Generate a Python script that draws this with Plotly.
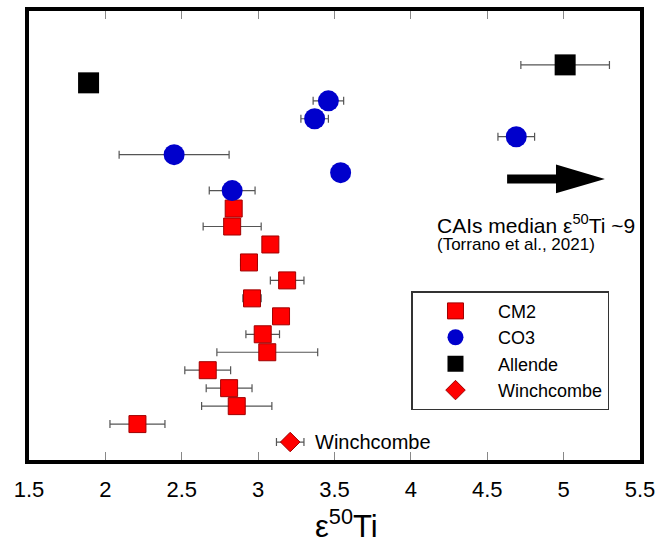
import plotly.graph_objects as go

# epsilon 50Ti values, one sample per row (row 1 at the bottom)
cm2_rows = [14, 13, 12, 11, 10, 9, 8, 7, 6, 5, 4, 3, 2]
cm2_ti = [2.84, 2.83, 3.08, 2.94, 3.19, 2.96, 3.15, 3.03, 3.06, 2.67, 2.81, 2.86, 2.21]
cm2_err = [0.0, 0.19, 0.0, 0.055, 0.11, 0.06, 0.0, 0.11, 0.33, 0.15, 0.15, 0.23, 0.18]

co3_rows = [20, 19, 18, 17, 16, 15]
co3_ti = [3.46, 3.37, 4.69, 2.45, 3.54, 2.83]
co3_err = [0.10, 0.09, 0.12, 0.36, 0.02, 0.15]

allende_rows = [22, 21]
allende_ti = [5.01, 1.89]
allende_err = [0.29, 0.0]

winch_rows = [1]
winch_ti = [3.21]
winch_err = [0.09]

x_ticks = [1.5, 2, 2.5, 3, 3.5, 4, 4.5, 5, 5.5]

# arrow pointing to the CAI median (off scale)
arrow_x = [4.63, 4.95, 5.27]   # tail, head base, tip
arrow_row = 15.65

FONT = "Liberation Sans, Arial, sans-serif"
ERR_COLOR = "#555555"


def err(vals):
    return dict(type="data", array=vals, visible=True, color=ERR_COLOR, thickness=1.2, width=4)


fig = go.Figure()

fig.add_trace(go.Scatter(
    x=cm2_ti, y=cm2_rows, mode="markers", name="CM2",
    error_x=err(cm2_err),
    marker=dict(symbol="square", size=17, color="#ff0000", line=dict(color="#a00000", width=1))
))
fig.add_trace(go.Scatter(
    x=co3_ti, y=co3_rows, mode="markers", name="CO3",
    error_x=err(co3_err),
    marker=dict(symbol="circle", size=21, color="#0000cc", line=dict(color="#0000cc", width=0))
))
fig.add_trace(go.Scatter(
    x=allende_ti, y=allende_rows, mode="markers", name="Allende",
    error_x=err(allende_err),
    marker=dict(symbol="square", size=21, color="#000000")
))
fig.add_trace(go.Scatter(
    x=winch_ti, y=winch_rows, mode="markers", name="Winchcombe",
    error_x=err(winch_err),
    marker=dict(symbol="diamond", size=15, color="#ff0000", line=dict(color="#a00000", width=1))
))

# Arrow
tail, base, tip = arrow_x
sh, hh = 0.25, 0.8
path = (f"M {tail},{arrow_row - sh} L {base},{arrow_row - sh} L {base},{arrow_row - hh} "
        f"L {tip},{arrow_row} L {base},{arrow_row + hh} L {base},{arrow_row + sh} "
        f"L {tail},{arrow_row + sh} Z")
fig.add_shape(type="path", path=path, xref="x", yref="y",
              fillcolor="black", line=dict(color="black", width=0))

fig.add_annotation(x=4.16, y=13.15, xref="x", yref="y", xanchor="left", yanchor="middle",
                   text="CAIs median ε<sup>50</sup>Ti ~9", showarrow=False,
                   font=dict(family=FONT, size=21, color="black"))
fig.add_annotation(x=4.16, y=12.0, xref="x", yref="y", xanchor="left", yanchor="middle",
                   text="(Torrano et al., 2021)", showarrow=False,
                   font=dict(family=FONT, size=17, color="black"))
fig.add_annotation(x=3.36, y=1, xref="x", yref="y", xanchor="left", yanchor="middle",
                   text="Winchcombe", showarrow=False,
                   font=dict(family=FONT, size=20, color="black"))

# x axis title
fig.add_annotation(x=0.52, y=-0.143, xref="paper", yref="paper", xanchor="center", yanchor="middle",
                   text="ε<sup>50</sup>Ti", showarrow=False,
                   font=dict(family=FONT, size=31, color="black"))

fig.update_layout(
    width=670, height=546,
    margin=dict(l=29, r=30, t=7, b=86),
    paper_bgcolor="white", plot_bgcolor="white",
    font=dict(family=FONT, color="black"),
    showlegend=True,
    legend=dict(
        x=0.626, y=0.376, xanchor="left", yanchor="top",
        bgcolor="white", bordercolor="#333333", borderwidth=1.5,
        font=dict(family=FONT, size=18, color="black"),
        itemwidth=75, tracegroupgap=0,
    ),
)

fig.update_xaxes(
    range=[1.5, 5.5], tickvals=x_ticks,
    ticks="inside", ticklen=8, tickwidth=1, tickcolor="#888888",
    showline=True, linecolor="black", linewidth=4, mirror="allticks",
    showgrid=False, zeroline=False,
    tickfont=dict(family=FONT, size=22, color="black"),
    ticklabelstandoff=7,
)
fig.update_yaxes(
    range=[0, 25], showticklabels=False, ticks="",
    showline=True, linecolor="black", linewidth=4, mirror=True,
    showgrid=False, zeroline=False,
)

# page body has a default margin; drop it so the figure sits at the window corner
fig.write_html("out.html", config={"displayModeBar": False},
               post_script="document.body.style.margin='0';")
